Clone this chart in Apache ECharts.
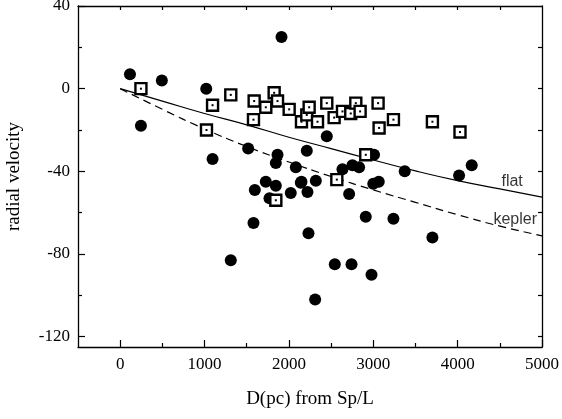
<!DOCTYPE html>
<html><head><meta charset="utf-8">
<script src="https://cdn.jsdelivr.net/npm/echarts@6/dist/echarts.min.js"></script>
<style>html,body{margin:0;padding:0;background:#fff}#c{width:562px;height:419px}</style>
</head><body><div id="c"></div>
<script>
// filled circles: [D(pc), radial velocity]
const circles = [
  [116,7],[246,-18],[494,4],[1020,0],[1095,-34],[1517,-29],[1865,-32],[1845,-36],
  [1912,25],[2082,-38],[2212,-30],[2449,-23],[1726,-45],[1845,-47],[1596,-49],
  [2022,-50.5],[2141,-45.5],[1770,-53],[1580,-65],[1311,-83],[2149,-45],[2319,-44.5],
  [2220,-50],[2714,-51],[3000,-46],[3065,-45],[2911,-62],[3239,-63],[2232,-70],
  [3701,-72],[2544,-85],[2742,-85],[2979,-90],[2311,-102],[3009,-32],[2753,-37],
  [2832,-38],[2635,-39],[3373,-40],[4017,-42],[4167,-37]
];
// open squares
const squares = [
  [246,0],[1023,-20],[1095,-8],[1311,-3],[1588,-6],[1580,-15],[1825,-2],[1726,-9],
  [1865,-6],[2003,-10],[2149,-16],[2212,-12.7],[2240,-9],[2339,-16],[2449,-7],
  [2536,-14],[2635,-11],[2733,-12],[2793,-7],[2844,-11],[3057,-7],[3069,-19],
  [3239,-15],[2911,-32],[2568,-44],[1845,-54],[3701,-16],[4028,-21]
];
// model curves
const flatCurve = [[0,0],[500,-6],[1000,-12],[1500,-17.5],[2000,-23.5],[2500,-29],[3000,-34.5],[3500,-39.8],[4000,-44.5],[4500,-48.5],[5000,-52.5]];
const keplerCurve = [[0,0],[500,-10],[1000,-19.5],[1500,-28],[2000,-35.5],[2500,-42.5],[3000,-49],[3500,-55],[4000,-61],[4500,-66.5],[5000,-71.2]];
// ticks
const xTickLabels = [0,1000,2000,3000,4000,5000];
const xMinorTicks = [500,1500,2500,3500,4500];
const xTopTicks = [0,500,1000,1500,2000,2500,3000,3500,4000,4500];
const yTickLabels = [40,0,-40,-80,-120];
const yMinorTicks = [20,-20,-60,-100];
const yRightTicks = [20,0,-20,-40,-60,-80,-100,-120];
const annotations = [{text:'flat', at:[4646,-45]},{text:'kepler', at:[4683,-63.5]}];

const serif = 'Liberation Serif';
const axisLine = {show:true, onZero:false, lineStyle:{color:'#000', width:1.3}};
const noLine = {show:false, onZero:false};
const chart = echarts.init(document.getElementById('c'), null, {renderer:'canvas'});
const xRange = {type:'value', min:-500, max:5000, splitLine:{show:false}};
const yRange = {type:'value', min:-125, max:40, splitLine:{show:false}};
const plain = v => String(v);
chart.setOption({
  animation:false,
  backgroundColor:'#fff',
  grid:{left:78, right:20, top:6, bottom:72, containLabel:false, outerBoundsMode:'none'},
  xAxis:[
    Object.assign({}, xRange, {position:'bottom', axisLine:axisLine,
      axisTick:{show:true, inside:true, length:7, customValues:xTickLabels, lineStyle:{color:'#000', width:1.2}},
      axisLabel:{show:true, customValues:xTickLabels, formatter:plain, color:'#000', fontFamily:serif, fontSize:17, margin:9},
      name:'D(pc) from Sp/L', nameLocation:'middle', nameGap:43,
      nameTextStyle:{color:'#000', fontFamily:serif, fontSize:19}}),
    Object.assign({}, xRange, {position:'bottom', axisLine:noLine,
      axisTick:{show:true, inside:true, length:4, customValues:xMinorTicks, lineStyle:{color:'#000', width:1.2}},
      axisLabel:{show:false}}),
    Object.assign({}, xRange, {position:'top', axisLine:axisLine,
      axisTick:{show:true, inside:true, length:4, customValues:xTopTicks, lineStyle:{color:'#000', width:1.2}},
      axisLabel:{show:false}})
  ],
  yAxis:[
    Object.assign({}, yRange, {position:'left', axisLine:axisLine,
      axisTick:{show:true, inside:true, length:7, customValues:yTickLabels, lineStyle:{color:'#000', width:1.2}},
      axisLabel:{show:true, customValues:yTickLabels, formatter:plain, color:'#000', fontFamily:serif, fontSize:17, margin:8},
      name:'radial velocity', nameLocation:'middle', nameGap:54, nameRotate:90,
      nameTextStyle:{color:'#000', fontFamily:serif, fontSize:19}}),
    Object.assign({}, yRange, {position:'left', axisLine:noLine,
      axisTick:{show:true, inside:true, length:4, customValues:yMinorTicks, lineStyle:{color:'#000', width:1.2}},
      axisLabel:{show:false}}),
    Object.assign({}, yRange, {position:'right', axisLine:axisLine,
      axisTick:{show:true, inside:true, length:4, customValues:yRightTicks, lineStyle:{color:'#000', width:1.2}},
      axisLabel:{show:false}})
  ],
  series:[
    {type:'line', data:flatCurve, showSymbol:false, symbol:'none', smooth:true,
      lineStyle:{color:'#000', width:1.2}, z:1},
    {type:'line', data:keplerCurve, showSymbol:false, symbol:'none', smooth:true,
      lineStyle:{color:'#000', width:1.2, type:[8,5]}, z:1},
    {type:'scatter', data:circles, symbol:'circle', symbolSize:12,
      itemStyle:{color:'#000', opacity:1}, z:2},
    {type:'scatter', data:squares, symbol:'rect', symbolSize:11,
      itemStyle:{color:'#fff', borderColor:'#000', borderWidth:2.4, opacity:1}, z:3},
    {type:'scatter', data:squares, symbol:'rect', symbolSize:2,
      itemStyle:{color:'#000', opacity:1}, z:4},
    {type:'scatter', data:annotations.map(a => ({value:a.at, name:a.text})), symbolSize:0,
      label:{show:true, position:'inside', formatter:p => p.name, color:'#000',
        fontFamily:'Liberation Sans', fontSize:16}, z:5}
  ]
});
</script>
</body></html>
